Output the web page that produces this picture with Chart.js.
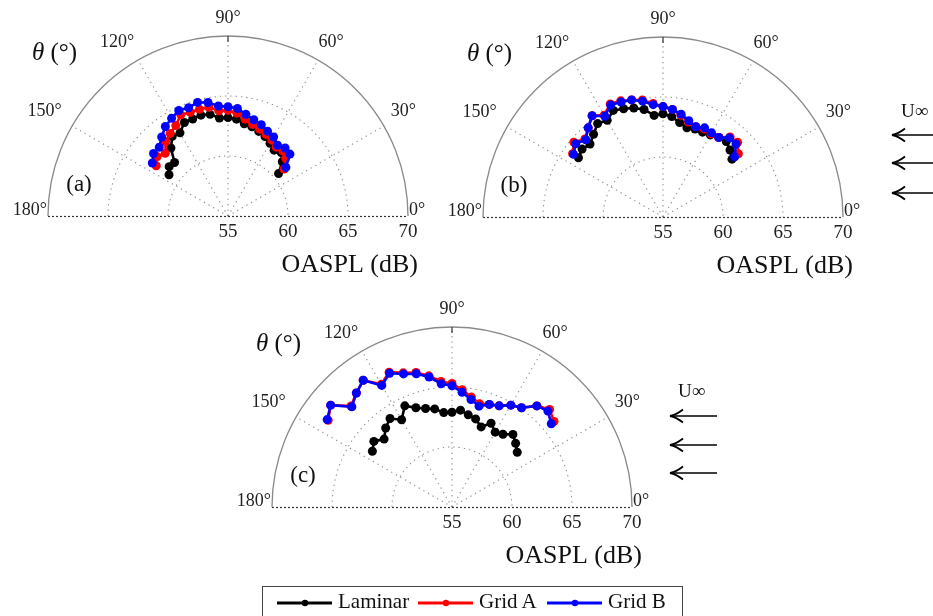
<!DOCTYPE html>
<html>
<head>
<meta charset="utf-8">
<script src="https://cdn.jsdelivr.net/npm/chart.js@4.4.0/dist/chart.umd.min.js"></script>
<style>
html,body{margin:0;padding:0;background:#fff;}
body{width:933px;height:616px;overflow:hidden;position:relative;font-family:"Liberation Serif",serif;}
canvas{position:absolute;}
#overlay{position:absolute;left:0;top:0;}
</style>
</head>
<body>
<canvas id="cA" width="440" height="290" style="left:0;top:0"></canvas>
<canvas id="cB" width="497" height="290" style="left:436px;top:0"></canvas>
<canvas id="cC" width="440" height="290" style="left:230px;top:290px"></canvas>
<svg id="overlay" width="933" height="616"></svg>
<script>
/* ---------- DATA ---------- */
const RMIN = 55, RMAX = 70;
const angles = [145,140,135,130,125,120,115,110,105,100,95,90,85,80,75,70,65,60,55,50,45,40];
const rTicks = [55,60,65,70];
const thetaTicks = [0,30,60,90,120,150,180];
const seriesNames = ['Laminar','Grid A','Grid B'];
const seriesColors = ['#000000','#ff0000','#0000ff'];

// (a)
const laminar_a = [61.0,61.4,61.3,62.4,63.1,63.0,63.6,63.6,63.7,63.6,63.2,63.2,63.1,62.8,62.7,62.5,62.3,62.0,61.7,61.9,61.4,60.5];
const gridA_a   = [62.3,62.7,62.4,63.1,63.4,63.7,64.3,64.2,64.2,64.2,63.8,63.8,63.6,63.2,62.9,62.7,62.5,62.3,62.0,62.1,61.8,61.1];
const gridB_a   = [62.7,63.1,63.1,63.6,64.1,64.4,64.7,64.6,64.8,64.6,64.2,64.1,64.0,63.6,63.3,63.1,62.8,62.6,62.2,62.4,62.3,61.3];
// (b)
const laminar_b = [63.6,63.8,63.6,64.0,64.5,64.3,64.8,64.6,64.4,64.1,63.5,63.6,63.4,63.0,62.7,62.8,62.8,62.9,63.1,63.2,62.9,62.5];
const gridA_b   = [64.2,64.7,64.2,64.7,65.3,64.8,65.4,65.3,65.1,64.9,64.5,64.2,64.0,63.6,63.2,63.0,63.1,63.0,63.1,63.7,63.8,63.2];
const gridB_b   = [64.1,64.5,64.1,64.7,65.3,64.7,65.3,65.2,65.1,64.8,64.4,64.2,64.0,63.7,63.3,63.0,63.2,63.1,63.1,63.6,63.6,62.8];
// (c)
const laminar_c = [63.1,63.5,63.0,63.6,64.0,63.4,64.3,63.8,63.5,63.3,62.9,62.9,63.1,62.8,62.6,62.1,62.7,62.2,62.4,62.9,62.5,62.1];
const gridA_c   = [67.6,68.2,66.9,67.4,67.9,66.8,67.4,66.9,66.6,66.1,65.5,65.3,64.8,64.3,63.9,64.1,64.3,64.8,65.1,66.0,66.5,66.1];
const gridB_c   = [67.7,68.2,66.8,67.4,67.9,66.7,67.3,66.8,66.5,66.0,65.3,65.1,64.6,64.1,63.7,64.1,64.3,64.8,65.1,66.0,66.3,65.8];

/* ---------- HELPERS ---------- */
const $ = id => document.getElementById(id);
const rad = d => d*Math.PI/180;
const SERIF = '"Liberation Serif", "DejaVu Serif", serif';
const toXY = vals => angles.map((a,i)=>({x:(vals[i]-RMIN)*Math.cos(rad(a)), y:(vals[i]-RMIN)*Math.sin(rad(a))}));

/* ---------- POLAR GRID PLUGIN ---------- */
const polarGrid = {
  id:'polarGrid',
  beforeDatasetsDraw(chart, args, opts){
    const {ctx, scales:{x,y}} = chart;
    const cx = x.getPixelForValue(0), cy = y.getPixelForValue(0);
    const px = x.getPixelForValue(1) - cx;
    const R = (RMAX-RMIN)*px;
    ctx.save();
    // dotted rings + spokes
    ctx.strokeStyle = '#8f8f8f'; ctx.lineWidth = 1.1; ctx.setLineDash([1.3,4]);
    rTicks.filter(r=>r>RMIN && r<RMAX).forEach(r=>{
      ctx.beginPath(); ctx.arc(cx,cy,(r-RMIN)*px,Math.PI,2*Math.PI); ctx.stroke();
    });
    thetaTicks.filter(a=>a>0 && a<180).forEach(a=>{
      ctx.beginPath(); ctx.moveTo(cx,cy);
      ctx.lineTo(cx+R*Math.cos(rad(a)), cy-R*Math.sin(rad(a))); ctx.stroke();
    });
    // outer arc
    ctx.setLineDash([]); ctx.strokeStyle = '#8a8a8a'; ctx.lineWidth = 1.3;
    ctx.beginPath(); ctx.arc(cx,cy,R,Math.PI,2*Math.PI); ctx.stroke();
    // baseline
    ctx.strokeStyle = '#333'; ctx.lineWidth = 1.2; ctx.setLineDash([2,2]);
    ctx.beginPath(); ctx.moveTo(cx-R,cy+0.5); ctx.lineTo(cx+R,cy+0.5); ctx.stroke();
    ctx.setLineDash([]);
    ctx.beginPath(); ctx.moveTo(cx,cy-R); ctx.lineTo(cx,cy-R+6); ctx.stroke();
    // angle labels
    ctx.fillStyle = '#222'; ctx.font = '18px '+SERIF; ctx.textBaseline = 'middle';
    thetaTicks.forEach(a=>{
      const t = a+'\u00b0';
      if(a===0){ctx.textAlign='left'; ctx.fillText(t,cx+R+1,cy-6); return;}
      if(a===180){ctx.textAlign='right'; ctx.fillText(t,cx-R-1,cy-6); return;}
      const nx = a>90 ? -12 : (a<90 ? 4 : 0);
      const ny = (a===30||a===150) ? -6 : (a===90 ? 0 : -2);
      ctx.textAlign='center';
      ctx.fillText(t, cx+1.1*R*Math.cos(rad(a))+nx, cy-1.1*R*Math.sin(rad(a))+ny);
    });
    // radial labels
    ctx.font = '19px '+SERIF; ctx.textAlign='center';
    rTicks.forEach(r=>ctx.fillText(String(r), cx+(r-RMIN)*px, cy+16));
    // axis titles
    ctx.fillStyle = '#111';
    ctx.font = '26px '+SERIF; ctx.textAlign='right';
    ctx.fillText('OASPL (dB)', cx+190, cy+49);
    ctx.textAlign='left';
    ctx.font = 'italic 25px '+SERIF;
    ctx.fillText('\u03b8', cx-196, cy-163);
    const w = ctx.measureText('\u03b8').width;
    ctx.font = '25px '+SERIF;
    ctx.fillText(' (\u00b0)', cx-196+w, cy-163);
    ctx.font = '23px '+SERIF; ctx.textAlign='center';
    ctx.fillText(opts.panel, cx-149, cy-31);
    ctx.restore();
  }
};

/* ---------- CHARTS ---------- */
function makePanel(id, panel, seriesVals, pad){
  const datasets = seriesVals.map((vals,i)=>({
    label:seriesNames[i], data:toXY(vals), showLine:true,
    borderColor:seriesColors[i], backgroundColor:seriesColors[i],
    borderWidth:2.6, pointRadius:4.5, pointBorderWidth:0, pointHoverRadius:4.5,
    order:3-i, clip:false
  }));
  return new Chart($(id).getContext('2d'),{
    type:'scatter',
    data:{datasets},
    options:{
      responsive:false, animation:false, events:[],
      layout:{padding:pad},
      plugins:{legend:{display:false}, tooltip:{enabled:false}, polarGrid:{panel}},
      scales:{
        x:{type:'linear',min:-(RMAX-RMIN),max:RMAX-RMIN,display:false},
        y:{type:'linear',min:0,max:RMAX-RMIN,display:false}
      }
    },
    plugins:[polarGrid]
  });
}

makePanel('cA','(a)',[laminar_a,gridA_a,gridB_a],{left:48,right:32,top:36,bottom:74});
makePanel('cB','(b)',[laminar_b,gridA_b,gridB_b],{left:47,right:90,top:37,bottom:73});
makePanel('cC','(c)',[laminar_c,gridA_c,gridB_c],{left:42,right:38,top:37,bottom:73});

/* ---------- ARROWS + LEGEND (SVG) ---------- */
const NS = 'http://www.w3.org/2000/svg';
const svg = $('overlay');
const el = (tag, attrs, text) => {
  const e = document.createElementNS(NS, tag);
  Object.entries(attrs).forEach(([k,v])=>e.setAttribute(k,v));
  if(text) e.textContent = text;
  svg.appendChild(e); return e;
};
function flowArrows(tipX, tailX, ys, labelX, labelY){
  el('text',{x:labelX,y:labelY,'font-family':SERIF,'font-size':19,'dominant-baseline':'middle',fill:'#111'},'U\u221e');
  ys.forEach(y=>{
    el('line',{x1:tipX+1,y1:y,x2:tailX,y2:y,stroke:'#000','stroke-width':1.4});
    el('path',{d:`M${tipX+13},${y-6.5} Q${tipX+6},${y-1} ${tipX},${y} Q${tipX+6},${y+1} ${tipX+13},${y+6.5}`,
      fill:'none',stroke:'#000','stroke-width':1.8});
  });
}
flowArrows(892, 940, [135,163,193], 901, 113);
flowArrows(670, 717, [416,445,473], 678, 393);

el('rect',{x:262.5,y:586.5,width:420,height:40,fill:'#fff',stroke:'#444','stroke-width':1});
const legendX = [277, 418, 547];
seriesNames.forEach((n,i)=>{
  const x0 = legendX[i];
  el('line',{x1:x0,y1:603,x2:x0+55,y2:603,stroke:seriesColors[i],'stroke-width':3});
  el('circle',{cx:x0+28,cy:603,r:3.2,fill:seriesColors[i]});
  el('text',{x:x0+61,y:603,'font-family':SERIF,'font-size':21,'dominant-baseline':'middle',fill:'#111'},n);
});
</script>
</body>
</html>
